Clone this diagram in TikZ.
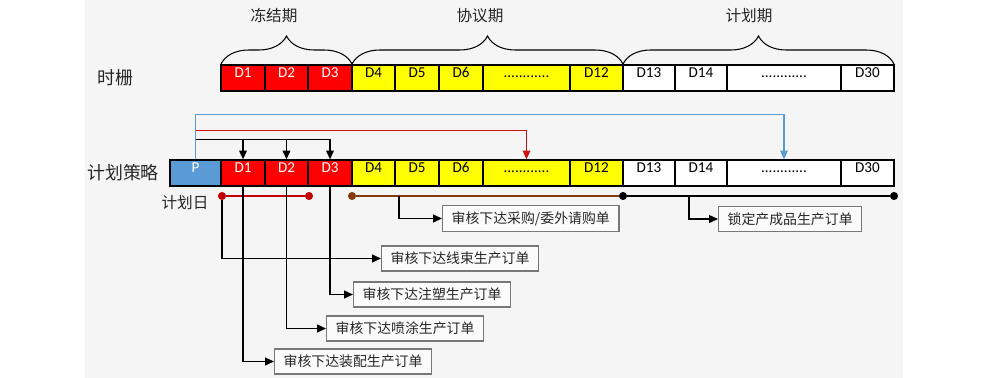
\documentclass[tikz,border=0pt]{standalone}
\usepackage{fontspec}
\setmainfont{Carlito}
\newfontfamily\cjk{Noto Sans CJK SC}
\usetikzlibrary{arrows.meta, decorations.pathreplacing, fit, positioning}
\definecolor{bgpanel}{RGB}{245,245,245}
\definecolor{frozencolor}{RGB}{255,0,0}
\definecolor{agreecolor}{RGB}{255,255,0}
\definecolor{pcolor}{RGB}{91,155,213}
\definecolor{strategyred}{RGB}{200,16,16}
\definecolor{spanred}{RGB}{192,0,0}
\definecolor{spanbrown}{RGB}{132,60,12}
\definecolor{boxborder}{RGB}{120,120,120}
\definecolor{txtcolor}{RGB}{38,38,38}
\tikzset{
  cell/.style={rectangle, draw=black, line width=0.8pt, inner sep=0pt, font=\fontsize{8.6}{10}\selectfont},
  frozencell/.style={cell, fill=frozencolor, text=white},
  agreecell/.style={cell, fill=agreecolor, text=black},
  plancell/.style={cell, fill=white, text=black},
  pcell/.style={cell, fill=pcolor, text=white},
  orderbox/.style={rectangle, draw=boxborder, line width=0.8pt, fill=white!60!bgpanel, minimum height=0.5cm, inner xsep=0.18cm, anchor=west, font=\cjk\fontsize{7.9}{9}\selectfont, text=txtcolor},
  rowlabel/.style={font=\cjk\fontsize{10.2}{12}\selectfont, text=txtcolor},
  periodlabel/.style={font=\cjk\fontsize{8.9}{11}\selectfont, text=txtcolor},
  periodbrace/.style={decorate, decoration={brace, amplitude=0.56cm}, line width=0.6pt},
  markdot/.style={circle, inner sep=0pt, minimum size=4.6pt},
  arr/.style={-{Triangle[length=5pt, width=4.4pt]}, line width=0.8pt},
  bluearr/.style={-{Triangle[length=5pt, width=4.4pt]}, line width=0.6pt, color=pcolor},
  redarr/.style={-{Triangle[length=5pt, width=4.4pt]}, line width=0.6pt, color=strategyred}
}

\begin{document}
\begin{tikzpicture}[x=0.02cm, y=-0.02cm]

  \fill[white] (0,0) rectangle (1000,378);
  \fill[bgpanel] (85,0) rectangle (903,378);
  \useasboundingbox (0,0) rectangle (1000,378);

  % time fence row (t) and strategy row (b)
  \foreach \nm/\txt/\xa/\xb/\kind in {1/D1/221/265/frozencell, 2/D2/265/308/frozencell, 3/D3/308/352/frozencell,
      4/D4/352/395/agreecell, 5/D5/395/439/agreecell, 6/D6/439/483/agreecell, x/{............}/483/570/agreecell,
      12/D12/570/623/agreecell, 13/D13/623/675/plancell, 14/D14/675/727/plancell, y/{............}/727/841/plancell,
      30/D30/841/894/plancell}
  {
    \node[\kind, fit={(\xa,65) (\xb,91)}]   (t\nm) {\txt};
    \node[\kind, fit={(\xa,160) (\xb,186)}] (b\nm) {\txt};
  }
  \node[pcell, fit={(170,160) (221,186)}] (bp) {P};

  \node[rowlabel] (lbgrid) at (115,78)  {时栅};
  \node[rowlabel] (lbplan) at (123,173) {计划策略};
  \node[periodlabel] (lbday) at (185,203) {计划日};

  \draw[periodbrace] (221,64) -- (352,64);
  \draw[periodbrace] (352,64) -- (623,64);
  \draw[periodbrace] (623,64) -- (894,64);
  \node[periodlabel] (lbfreeze) at (274,16) {冻结期};
  \node[periodlabel] (lbagree)  at (480,16) {协议期};
  \node[periodlabel] (lbhoriz)  at (749,16) {计划期};

  \draw[bluearr] (bp.north) -- ++(0,-45) -| (by.north);
  \draw[redarr] ([yshift=0.58cm]bp.north) -| (bx.north);
  \draw[arr] ([yshift=0.4cm]bp.north) -| (b1.north);
  \draw[arr] ([yshift=0.4cm]bp.north) -| (b2.north);
  \draw[arr] ([yshift=0.4cm]bp.north) -| (b3.north);

  \node[markdot, fill=spanred]   (rdA) at (222,196) {};
  \node[markdot, fill=spanred]   (rdB) at (309,196) {};
  \node[markdot, fill=spanbrown] (brA) at (352,196) {};
  \node[markdot, fill=black]     (bkA) at (623,196) {};
  \node[markdot, fill=black]     (bkB) at (894,196) {};
  \draw[spanred, line width=1.2pt]   (rdA) -- (rdB);
  \draw[spanbrown, line width=1.2pt] (brA) -- (bkA);
  \draw[black, line width=1.4pt]     (bkA) -- (bkB);

  \node[orderbox, minimum width=3.52cm] (ordbuy) at (442,218.5) {审核下达采购/委外请购单};
  \node[orderbox] (ordlock)  at (718,219)   {锁定产成品生产订单};
  \node[orderbox] (ordwire)  at (381,258.5) {审核下达线束生产订单};
  \node[orderbox] (ordmold)  at (353,294.5) {审核下达注塑生产订单};
  \node[orderbox] (ordspray) at (326,328.5) {审核下达喷涂生产订单};
  \node[orderbox] (ordasm)   at (274,361.5) {审核下达装配生产订单};

  \coordinate (buyfrom)  at (399,196);
  \coordinate (lockfrom) at (689,196);
  \draw[arr] (buyfrom)  |- (ordbuy.west);
  \draw[arr] (lockfrom) |- (ordlock.west);
  \draw[arr] (rdA)      |- (ordwire.west);
  \draw[arr] (b3.south) |- (ordmold.west);
  \draw[arr] (b2.south) |- (ordspray.west);
  \draw[arr] (b1.south) |- (ordasm.west);

\end{tikzpicture}
\end{document}
